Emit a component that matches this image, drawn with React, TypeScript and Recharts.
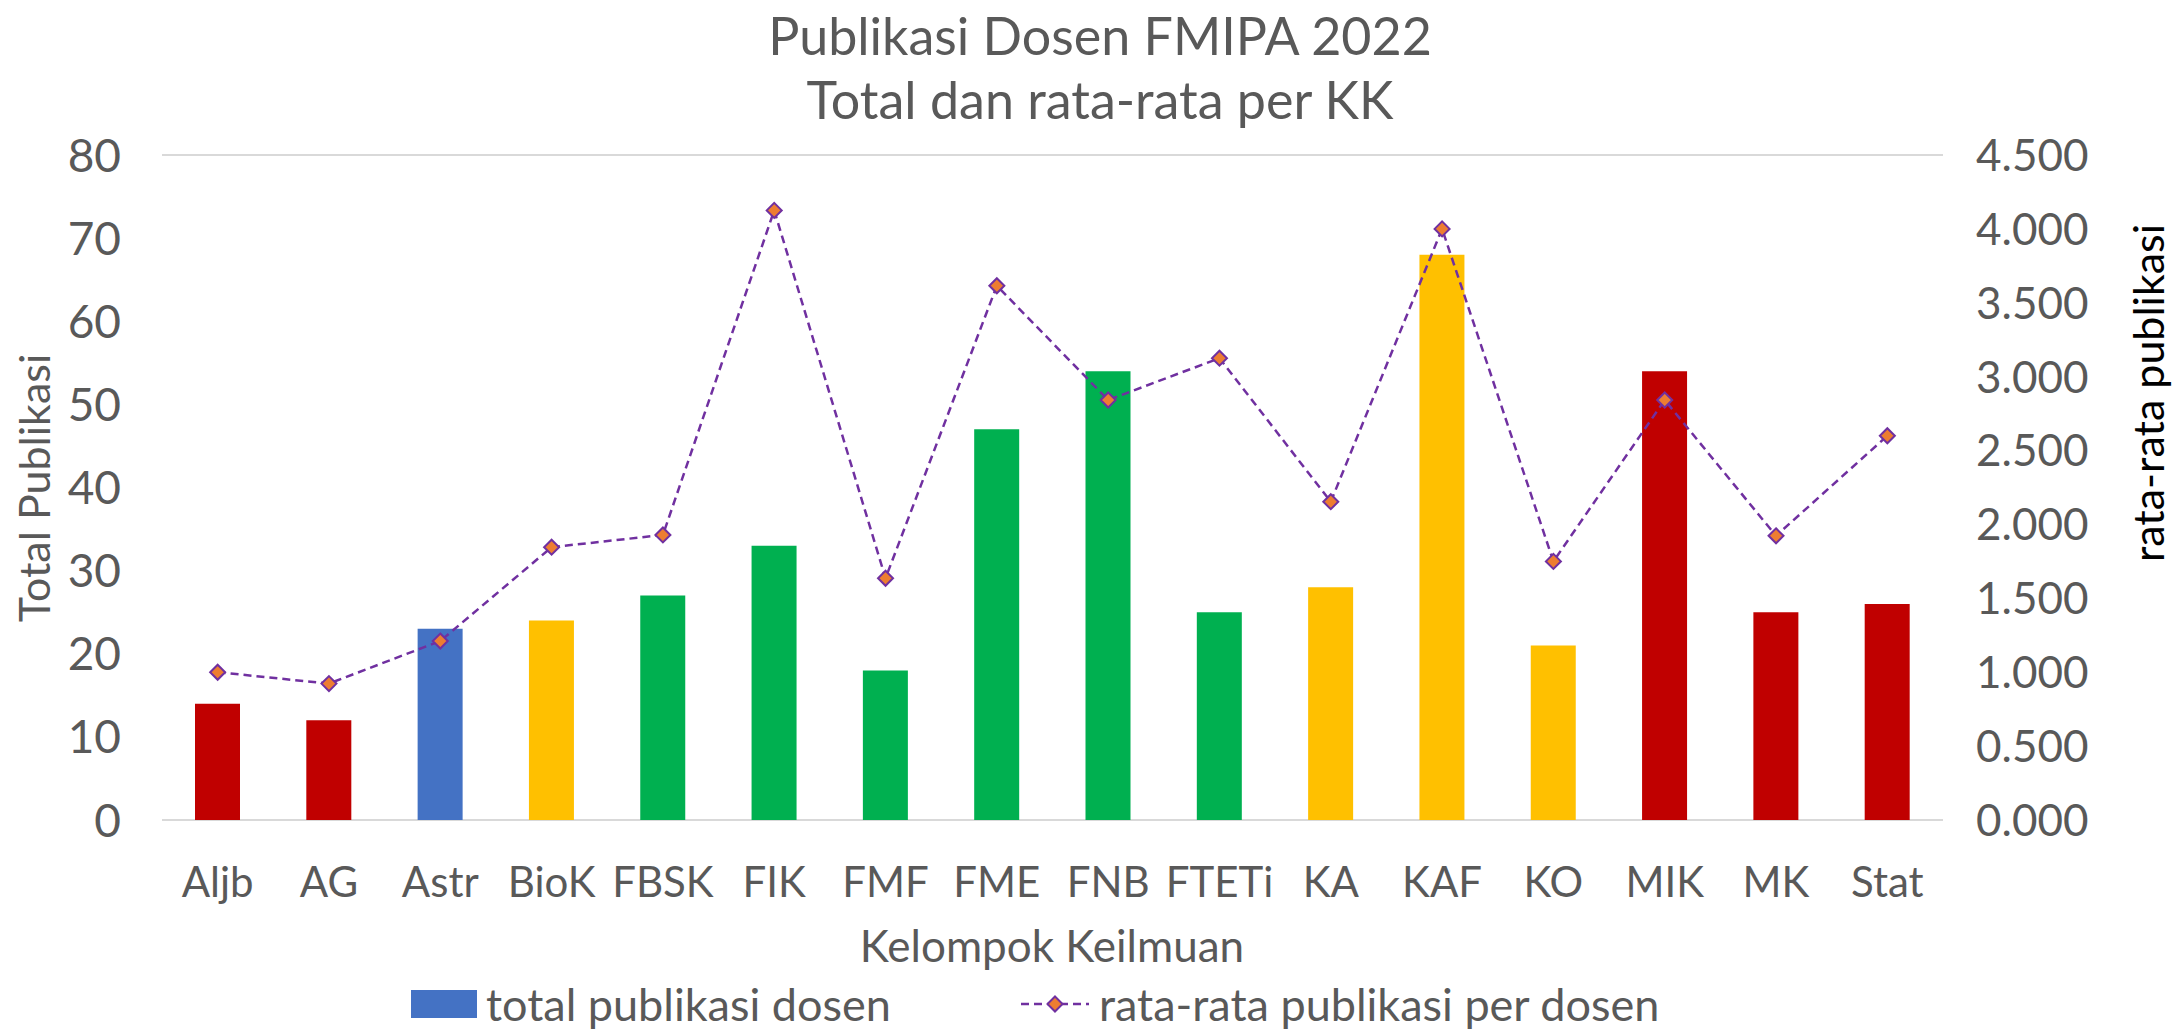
import React from 'react';
import {
  ComposedChart,
  Bar,
  Line,
  XAxis,
  YAxis,
  CartesianGrid,
  Legend,
  Cell,
} from 'recharts';

// ---- data ----
const categories = ['Aljb', 'AG', 'Astr', 'BioK', 'FBSK', 'FIK', 'FMF', 'FME', 'FNB', 'FTETi', 'KA', 'KAF', 'KO', 'MIK', 'MK', 'Stat'];
const totalPublikasi = [14, 12, 23, 24, 27, 33, 18, 47, 54, 25, 28, 68, 21, 54, 25, 26];
const rataRataPublikasi = [1.0, 0.923, 1.211, 1.846, 1.929, 4.125, 1.636, 3.615, 2.842, 3.125, 2.154, 4.0, 1.75, 2.842, 1.923, 2.6];
const kelompokWarna = ['merah', 'merah', 'biru', 'kuning', 'hijau', 'hijau', 'hijau', 'hijau', 'hijau', 'hijau', 'kuning', 'kuning', 'kuning', 'merah', 'merah', 'merah'];
const leftTicks = [0, 10, 20, 30, 40, 50, 60, 70, 80];
const rightTicks = [0, 0.5, 1, 1.5, 2, 2.5, 3, 3.5, 4, 4.5];

const titleLines = ['Publikasi Dosen FMIPA 2022', 'Total dan rata-rata per KK'];
const xAxisTitle = 'Kelompok Keilmuan';
const leftAxisTitle = 'Total Publikasi';
const rightAxisTitle = 'rata-rata publikasi';
const barName = 'total publikasi dosen';
const lineName = 'rata-rata publikasi per dosen';

const colorMap: Record<string, string> = {
  merah: '#C00000',
  biru: '#4472C4',
  kuning: '#FFC000',
  hijau: '#00B050',
};

const data = categories.map((c, i) => ({
  kk: c,
  total: totalPublikasi[i],
  rata: rataRataPublikasi[i],
  grp: kelompokWarna[i],
}));

const FONT = "Lato, 'Open Sans', sans-serif";
const GREY = '#595959';
const W = 2176;
const H = 1029;

const Diamond = (props: any) => {
  const { cx, cy } = props;
  if (cx == null || cy == null) return null;
  const r = 7.5;
  return (
    <polygon
      key={props.key ?? `d-${cx}`}
      points={`${cx},${cy - r} ${cx + r},${cy} ${cx},${cy + r} ${cx - r},${cy}`}
      fill="#ED7D31"
      stroke="#7030A0"
      strokeWidth={2}
    />
  );
};

const XTick = (props: any) => {
  const { x, y, payload } = props;
  return (
    <text x={x} y={y + 77} textAnchor="middle" fill={GREY} fontSize={42} fontFamily={FONT}>
      {payload.value}
    </text>
  );
};

const LeftTick = (props: any) => {
  const { x, y, payload } = props;
  return (
    <text x={x} y={y} dy="0.36em" textAnchor="end" fill={GREY} fontSize={46} fontFamily={FONT}>
      {payload.value}
    </text>
  );
};

const RightTick = (props: any) => {
  const { x, y, payload } = props;
  return (
    <text x={x} y={y} dy="0.36em" textAnchor="start" fill={GREY} fontSize={44} fontFamily={FONT}>
      {Number(payload.value).toFixed(3)}
    </text>
  );
};

const LegendContent = () => (
  <div style={{ position: 'relative', width: W, height: 50, fontFamily: FONT, fontSize: 45, color: GREY }}>
    <div style={{ position: 'absolute', left: 411, top: 11, width: 66, height: 28, background: '#4472C4' }} />
    <span style={{ position: 'absolute', left: 486, top: 0, lineHeight: '50px', whiteSpace: 'nowrap' }}>{barName}</span>
    <svg style={{ position: 'absolute', left: 1021, top: 0 }} width={68} height={50}>
      <line x1={0} y1={25} x2={68} y2={25} stroke="#7030A0" strokeWidth={2.5} strokeDasharray="8 5" />
      <polygon points="34,17.5 41.5,25 34,32.5 26.5,25" fill="#ED7D31" stroke="#7030A0" strokeWidth={2} />
    </svg>
    <span style={{ position: 'absolute', left: 1099, top: 0, lineHeight: '50px', whiteSpace: 'nowrap' }}>{lineName}</span>
  </div>
);

export default function App() {
  return (
    <div style={{ position: 'absolute', left: 0, top: 0, width: W, height: H, background: '#fff' }}>
      <ComposedChart
        width={W}
        height={H}
        data={data}
        margin={{ top: 155, right: 0, bottom: 59, left: 0 }}
      >
        <CartesianGrid vertical={false} stroke="#D9D9D9" strokeWidth={2} />
        <XAxis
          dataKey="kk"
          height={100}
          tickSize={0}
          tickMargin={0}
          axisLine={false}
          tickLine={false}
          tick={<XTick />}
          interval={0}
        />
        <YAxis
          yAxisId="left"
          orientation="left"
          width={162}
          domain={[0, 80]}
          ticks={leftTicks}
          tickSize={0}
          tickMargin={41}
          axisLine={false}
          tickLine={false}
          tick={<LeftTick />}
          interval={0}
        />
        <YAxis
          yAxisId="right"
          orientation="right"
          width={233}
          domain={[0, 4.5]}
          ticks={rightTicks}
          tickSize={0}
          tickMargin={33}
          axisLine={false}
          tickLine={false}
          tick={<RightTick />}
          interval={0}
        />
        <Bar yAxisId="left" dataKey="total" name={barName} fill="#4472C4" barSize={45} isAnimationActive={false}>
          {data.map((d, i) => (
            <Cell key={`c-${i}`} fill={colorMap[d.grp]} />
          ))}
        </Bar>
        <Line
          yAxisId="right"
          type="linear"
          dataKey="rata"
          name={lineName}
          stroke="#7030A0"
          strokeWidth={2.5}
          strokeDasharray="8 5"
          dot={<Diamond />}
          activeDot={false}
          isAnimationActive={false}
        />
        <Legend
          verticalAlign="bottom"
          content={<LegendContent />}
          wrapperStyle={{ left: 0, top: 979, width: W, height: 50 }}
        />
        <text x={1100} y={55} textAnchor="middle" fill={GREY} fontSize={52} fontFamily={FONT}>
          {titleLines[0]}
        </text>
        <text x={1100} y={119} textAnchor="middle" fill={GREY} fontSize={52} fontFamily={FONT}>
          {titleLines[1]}
        </text>
        <text x={1052} y={962} textAnchor="middle" fill={GREY} fontSize={44} fontFamily={FONT}>
          {xAxisTitle}
        </text>
        <text
          x={50}
          y={488}
          transform="rotate(-90 50 488)"
          textAnchor="middle"
          fill={GREY}
          fontSize={43}
          fontFamily={FONT}
        >
          {leftAxisTitle}
        </text>
        <text
          x={2164}
          y={393}
          transform="rotate(-90 2164 393)"
          textAnchor="middle"
          fill="#000"
          fontSize={43}
          fontFamily={FONT}
        >
          {rightAxisTitle}
        </text>
      </ComposedChart>
    </div>
  );
}
